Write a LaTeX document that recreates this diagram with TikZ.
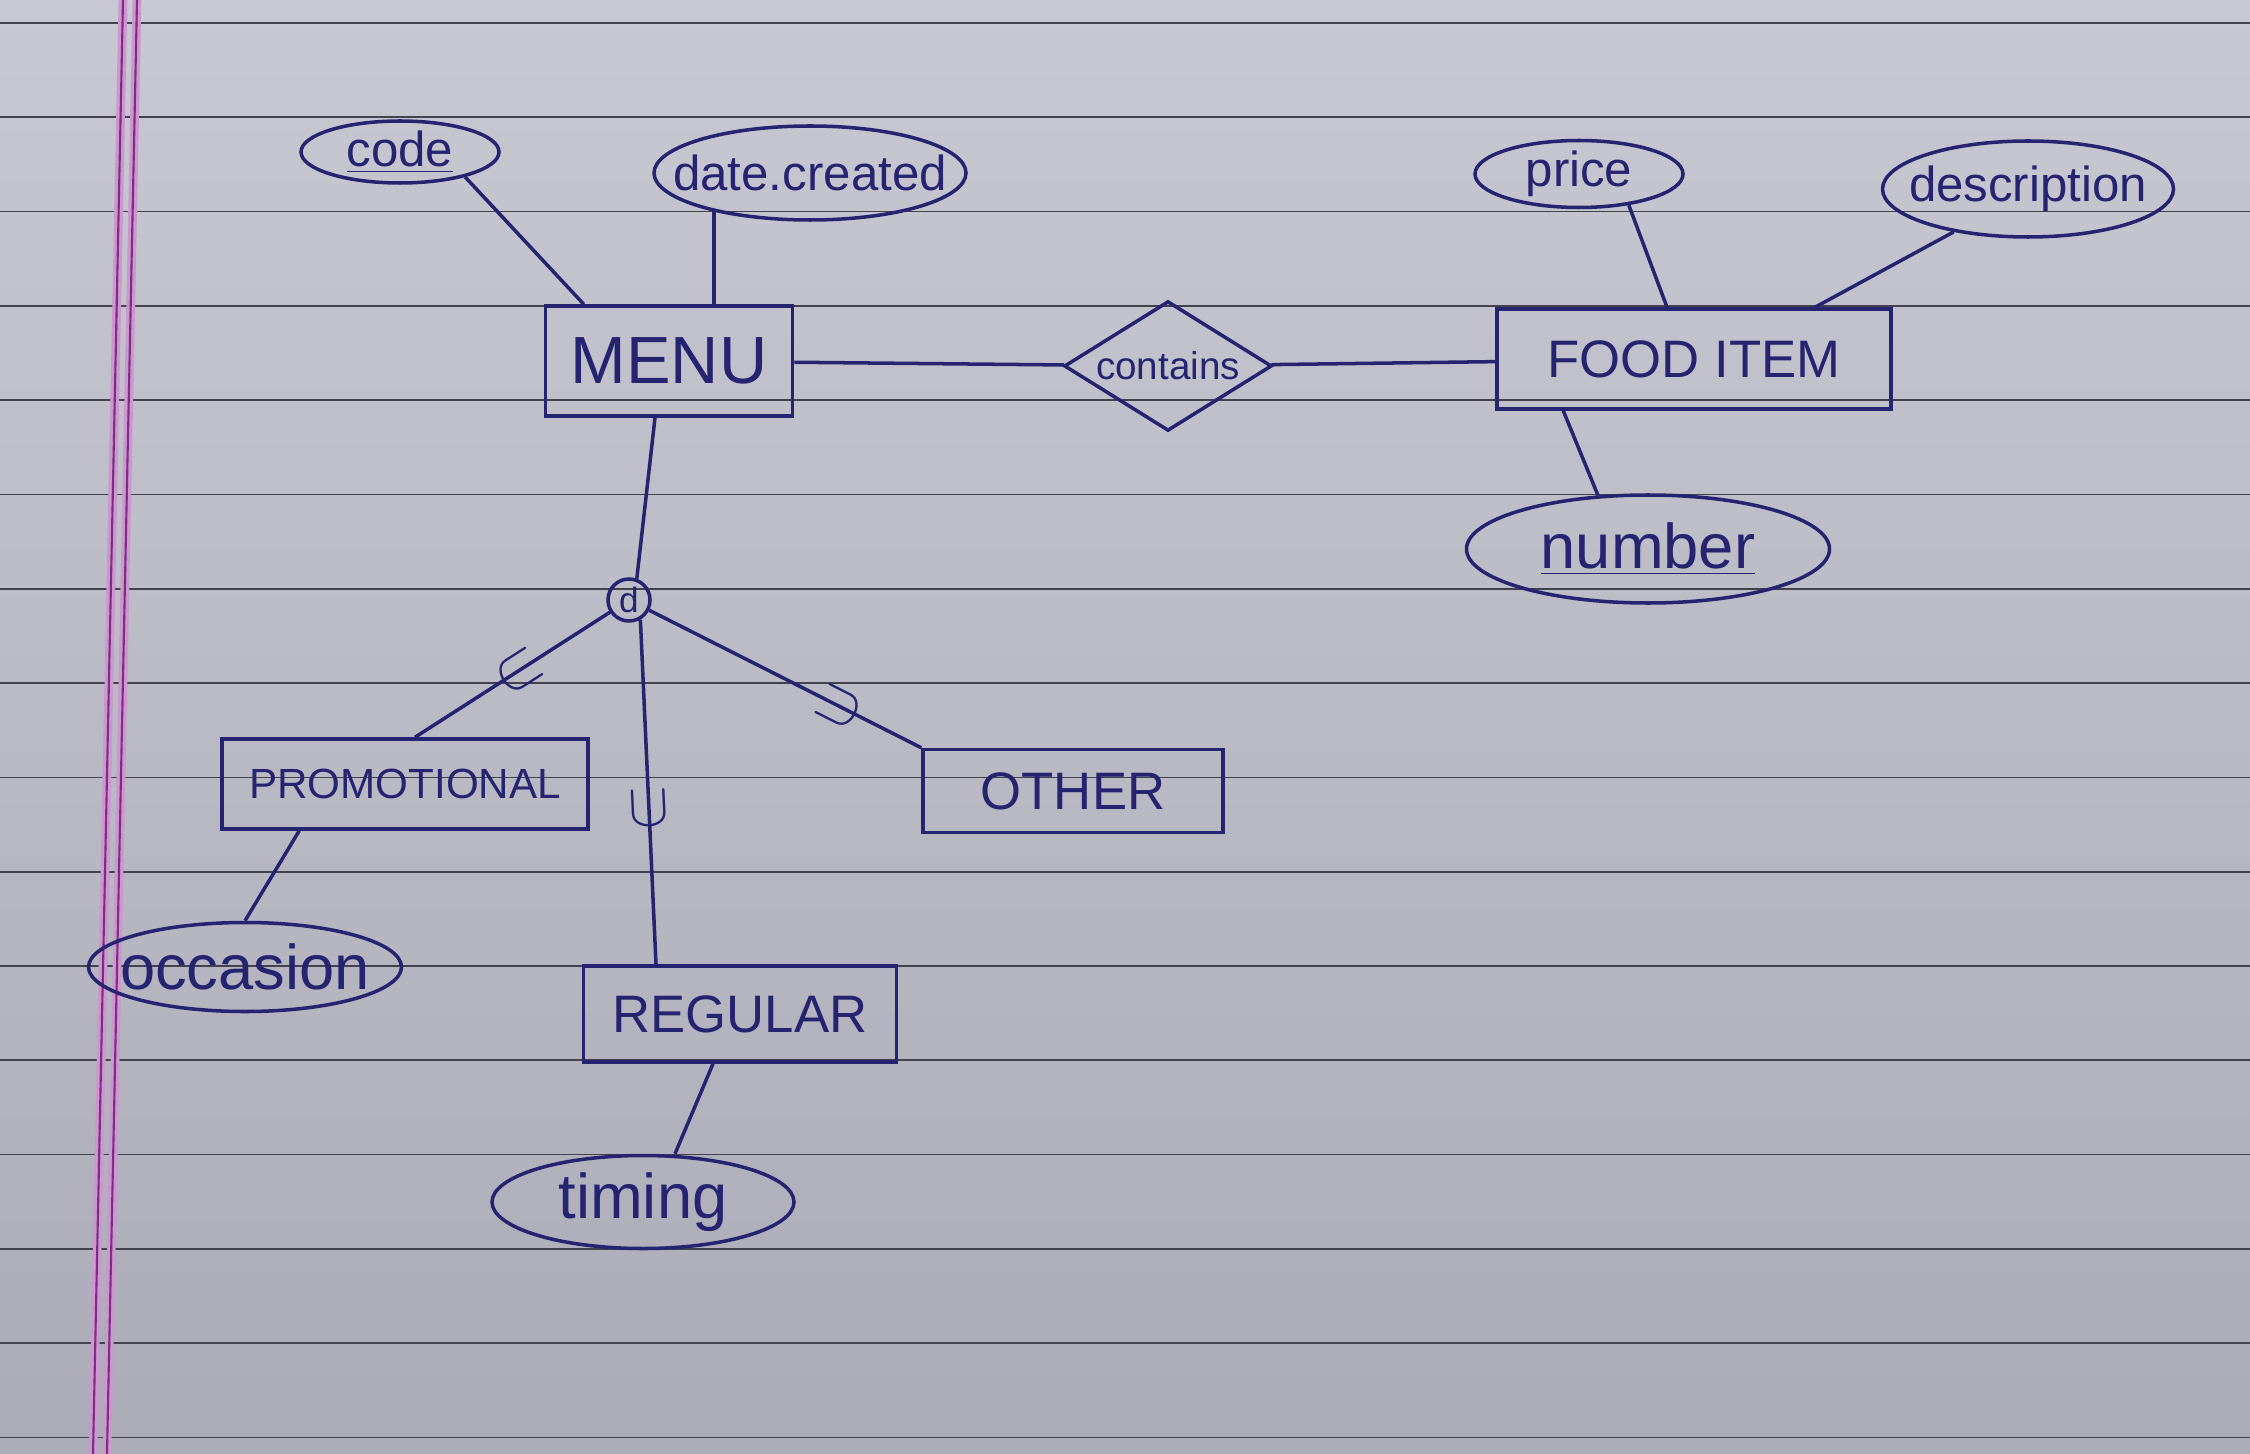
\documentclass[tikz,border=0pt]{standalone}
\usepackage{fontspec}
\setmainfont{Liberation Sans}
\usepackage{tikz}
\usetikzlibrary{positioning,arrows.meta,shapes.geometric,calc}
\definecolor{ink}{RGB}{38,36,112}
\definecolor{paper}{RGB}{200,200,210}
\definecolor{paperdark}{RGB}{172,172,184}
\definecolor{ruling}{RGB}{66,66,78}
\definecolor{marginpink}{RGB}{206,150,206}
\newcommand{\attrlabel}[1]{\makebox[0pt]{#1}}

\begin{document}
\begin{tikzpicture}[x=0.1mm, y=-0.1mm, line width=1pt,
    entity/.style={draw=ink, text=ink, rectangle, inner sep=0pt, font=\fontsize{15}{18}\selectfont},
    attr/.style={draw=ink, text=ink, ellipse, inner sep=0pt, font=\fontsize{14}{17}\selectfont},
    relship/.style={draw=ink, text=ink, diamond, aspect=1.6, inner sep=1pt, font=\fontsize{11}{13}\selectfont},
    link/.style={draw=ink, line width=1pt},
    cupmark/.style={sloped, allow upside down, rotate=90, inner sep=0pt, text=ink, font=\fontsize{16}{16}\selectfont}]
    \useasboundingbox (0,0) rectangle (2250,1454);

    % Ruled paper
    \shade[top color=paper, bottom color=paperdark] (0,0) rectangle (2250,1454);
    \foreach \k in {0,...,15}
        \draw[ruling, line width=0.5pt] (0,{23+94.3*\k}) -- (2250,{23+94.3*\k});
    \draw[marginpink, line width=2.5pt] (123,0) -- (93,1454);
    \draw[marginpink, line width=2.5pt] (137,0) -- (107,1454);
    \draw[ruling!70!magenta, line width=0.6pt] (123,0) -- (93,1454);
    \draw[ruling!70!magenta, line width=0.6pt] (137,0) -- (107,1454);

    % Entities
    \node[entity, minimum width=24.7mm, minimum height=11mm, font=\fontsize{19}{22}\selectfont] (menu) at (669,361) {MENU};
    \node[entity, minimum width=39.4mm, minimum height=10mm] (food) at (1694,359) {FOOD ITEM};
    \node[entity, minimum width=36.6mm, minimum height=9mm, font=\fontsize{12}{14}\selectfont] (promo) at (405,784) {PROMOTIONAL};
    \node[entity, minimum width=30mm, minimum height=8.3mm] (other) at (1073,791) {OTHER};
    \node[entity, minimum width=31.3mm, minimum height=9.6mm] (regular) at (740,1014) {REGULAR};

    % Relationship and specialisation circle
    \node[relship, minimum width=20.4mm, minimum height=12.9mm] (contains) at (1168,366) {contains};
    \node[draw=ink, text=ink, circle, inner sep=0pt, minimum size=4.2mm, font=\fontsize{10}{12}\selectfont] (d) at (629,600) {d};

    % Attributes
    \node[attr, minimum width=19.8mm, minimum height=6.2mm] (code) at (400,152) {\attrlabel{\underline{code}}};
    \node[attr, minimum width=31.2mm, minimum height=9.4mm] (created) at (810,173) {\attrlabel{date.created}};
    \node[attr, minimum width=20.8mm, minimum height=6.7mm] (price) at (1579,174) {\attrlabel{price}};
    \node[attr, minimum width=29.1mm, minimum height=9.6mm] (descr) at (2028,189) {\attrlabel{description}};
    \node[attr, minimum width=36.3mm, minimum height=10.8mm, font=\fontsize{18}{21}\selectfont] (number) at (1648,549) {\attrlabel{\underline{number}}};
    \node[attr, minimum width=31.3mm, minimum height=8.9mm, font=\fontsize{18}{21}\selectfont] (occasion) at (245,967) {\attrlabel{occasion}};
    \node[attr, minimum width=30.2mm, minimum height=9.3mm, font=\fontsize{18}{21}\selectfont] (timing) at (643,1202) {\attrlabel{timing}};

    % Attribute links
    \draw[link] (code.-21) -- ([xshift=4mm]menu.north west);
    \draw[link] (created.-158) -- (created.-158 |- menu.north);
    \draw[link] (price.-32) -- ([xshift=-2.7mm]food.north);
    \draw[link] (descr.-150) -- ([xshift=12.1mm]food.north);
    \draw[link] ([xshift=6.8mm]food.south west) -- (number.133);
    \draw[link] ([xshift=7.9mm]promo.south west) -- (occasion.north);
    \draw[link] ([xshift=-2.7mm]regular.south) -- ([xshift=3.2mm]timing.north);

    % Relationship links
    \draw[link] (menu) -- (contains);
    \draw[link] (contains) -- (food);

    % Specialisation
    \draw[link] ([xshift=-1.4mm]menu.south) -- (d.70);
    \draw[link] (d) -- ([xshift=1mm]promo.north) node[cupmark, pos=0.47] {$\cup$};
    \draw[link] (d.-60) -- ([xshift=-8.4mm]regular.north) node[cupmark, pos=0.55] {$\cup$};
    \draw[link] (d) -- (other.north west) node[cupmark, pos=0.7] {$\cup$};
\end{tikzpicture}
\end{document}
